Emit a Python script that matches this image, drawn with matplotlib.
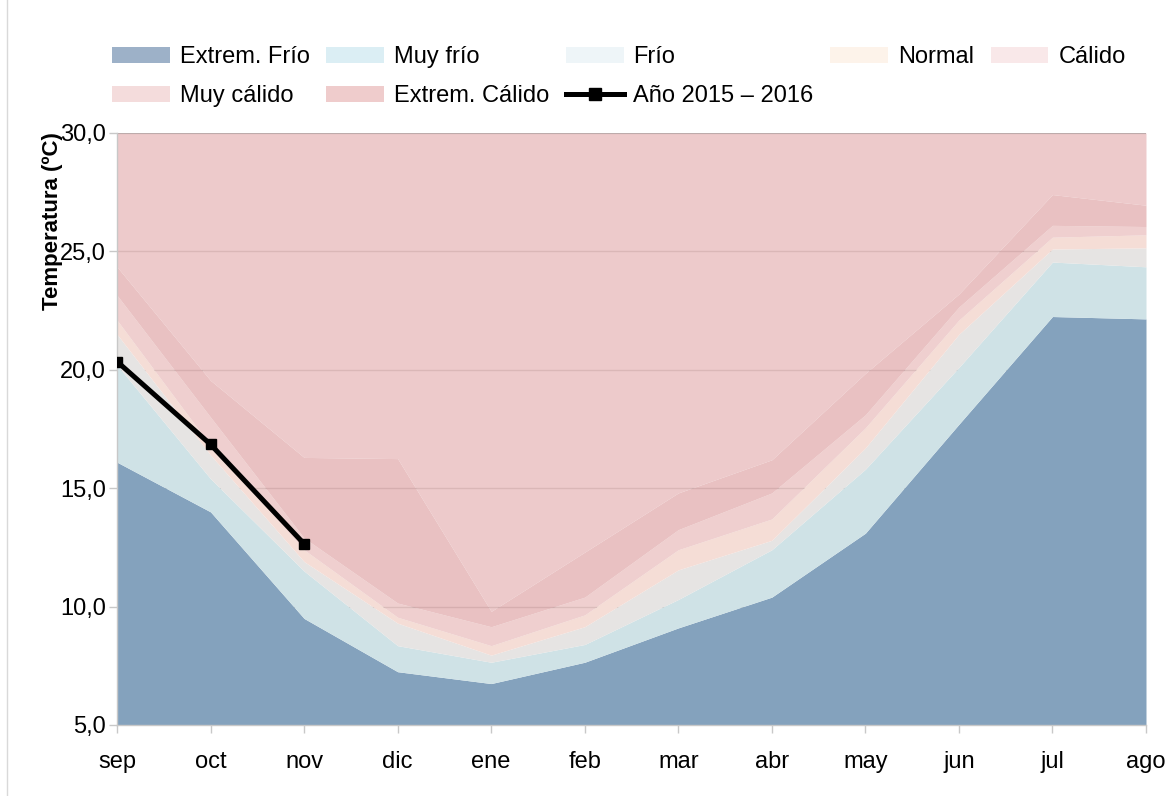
import matplotlib
matplotlib.use("Agg")
import matplotlib.pyplot as plt
from matplotlib.patches import Patch
from matplotlib.lines import Line2D
import numpy as np

months = ['sep', 'oct', 'nov', 'dic', 'ene', 'feb', 'mar', 'abr', 'may', 'jun', 'jul', 'ago']

# upper boundary of each category band (ºC)
extrem_frio   = [16.1, 14.0, 9.5, 7.25, 6.75, 7.65, 9.1, 10.4, 13.1, 17.7, 22.25, 22.15]
muy_frio      = [20.2, 15.4, 11.5, 8.35, 7.65, 8.4, 10.3, 12.4, 15.8, 20.1, 24.55, 24.35]
frio          = [21.5, 16.4, 11.9, 9.3, 7.95, 9.15, 11.55, 12.8, 16.7, 21.5, 25.1, 25.15]
normal        = [22.1, 16.8, 12.4, 9.55, 8.35, 9.65, 12.4, 13.7, 17.55, 22.1, 25.6, 25.7]
calido        = [23.15, 18.0, 12.9, 10.15, 9.15, 10.4, 13.25, 14.8, 18.1, 22.65, 26.1, 26.05]
muy_calido    = [24.35, 19.55, 16.3, 16.25, 9.8, 12.3, 14.8, 16.2, 19.85, 23.2, 27.4, 26.95]
extrem_calido = [30.0] * 12

anio_months = ['sep', 'oct', 'nov']
anio_values = [20.35, 16.85, 12.65]

labels = ['Extrem. Frío', 'Muy frío', 'Frío', 'Normal', 'Cálido', 'Muy cálido', 'Extrem. Cálido']
line_label = 'Año 2015 – 2016'

plot_colors = ['#84a2bd', '#cfe2e6', '#e6e4e3', '#f5ddd6', '#ebc4c3', '#e4b2b3', '#e9bdbe']
plot_alpha = [1, 1, 1, 1, 0.8, 0.8, 0.8]
legend_colors = ['#9db1c8', '#dbeef4', '#eef5f8', '#fdf3ea', '#f9e8e9', '#f4dcdc', '#efcccc']

plt.rcParams['font.family'] = ['Liberation Sans', 'DejaVu Sans']

fig = plt.figure(figsize=(11.74, 7.96), dpi=100)
ax = fig.add_axes([117/1174, 1-725/796, (1146-117)/1174, (725-133)/796])

x = np.arange(len(months))
bands = [extrem_frio, muy_frio, frio, normal, calido, muy_calido, extrem_calido]
lower = np.full(len(months), 5.0)
for i, b in enumerate(bands):
    upper = np.array(b)
    ax.fill_between(x, lower, upper, color=plot_colors[i], alpha=plot_alpha[i],
                    linewidth=0, zorder=2)
    lower = upper

xa = [months.index(m) for m in anio_months]
ax.plot(xa, anio_values, color='black', lw=3.6, marker='s', ms=7.5, zorder=5)

ax.set_xlim(0, len(months) - 1)
ax.set_ylim(5, 30)
ax.set_yticks(np.arange(5, 31, 5))
ax.set_yticklabels([f"{v:.1f}".replace('.', ',') for v in np.arange(5, 31, 5)])
ax.set_xticks(x)
ax.set_xticklabels(months)
ax.yaxis.grid(True, color='#a0a0a0', lw=1.0, zorder=1)
ax.set_axisbelow(True)

for s in ['top', 'right']:
    ax.spines[s].set_visible(False)
for s in ['left', 'bottom']:
    ax.spines[s].set_color('#c8c8c8')
    ax.spines[s].set_linewidth(1.0)
ax.tick_params(axis='both', colors='#c8c8c8', length=6, width=1.0, labelsize=17,
               labelcolor='black')
ax.tick_params(axis='y', pad=2)
ax.tick_params(axis='x', pad=13)

fig.text(53/1174, 1-221/796, 'Temperatura (ºC)', rotation=90, ha='center', va='center',
         fontsize=16, fontweight='bold')

# legend (ordered so that rows read like the reference)
h = [Patch(facecolor=c, edgecolor='none') for c in legend_colors]
hl = Line2D([0], [0], color='black', lw=3.6, marker='s', ms=9)
order_h = [h[0], h[5], h[1], h[6], h[2], hl, h[3], h[4]]
order_l = [labels[0], labels[5], labels[1], labels[6], labels[2], line_label, labels[3], labels[4]]
fig.legend(order_h, order_l, ncol=5, loc='upper left',
           bbox_to_anchor=(112/1174, 1-46/796), bbox_transform=fig.transFigure,
           frameon=False, fontsize=17, handlelength=2.45, handleheight=0.65,
           handletextpad=0.42, columnspacing=0.7, labelspacing=0.72,
           borderpad=0, borderaxespad=0)

fig.add_artist(Line2D([7/1174, 7/1174], [0, 1], color='#d9d9d9', lw=1.0,
                      transform=fig.transFigure))

fig.savefig('out.png', dpi=100)
